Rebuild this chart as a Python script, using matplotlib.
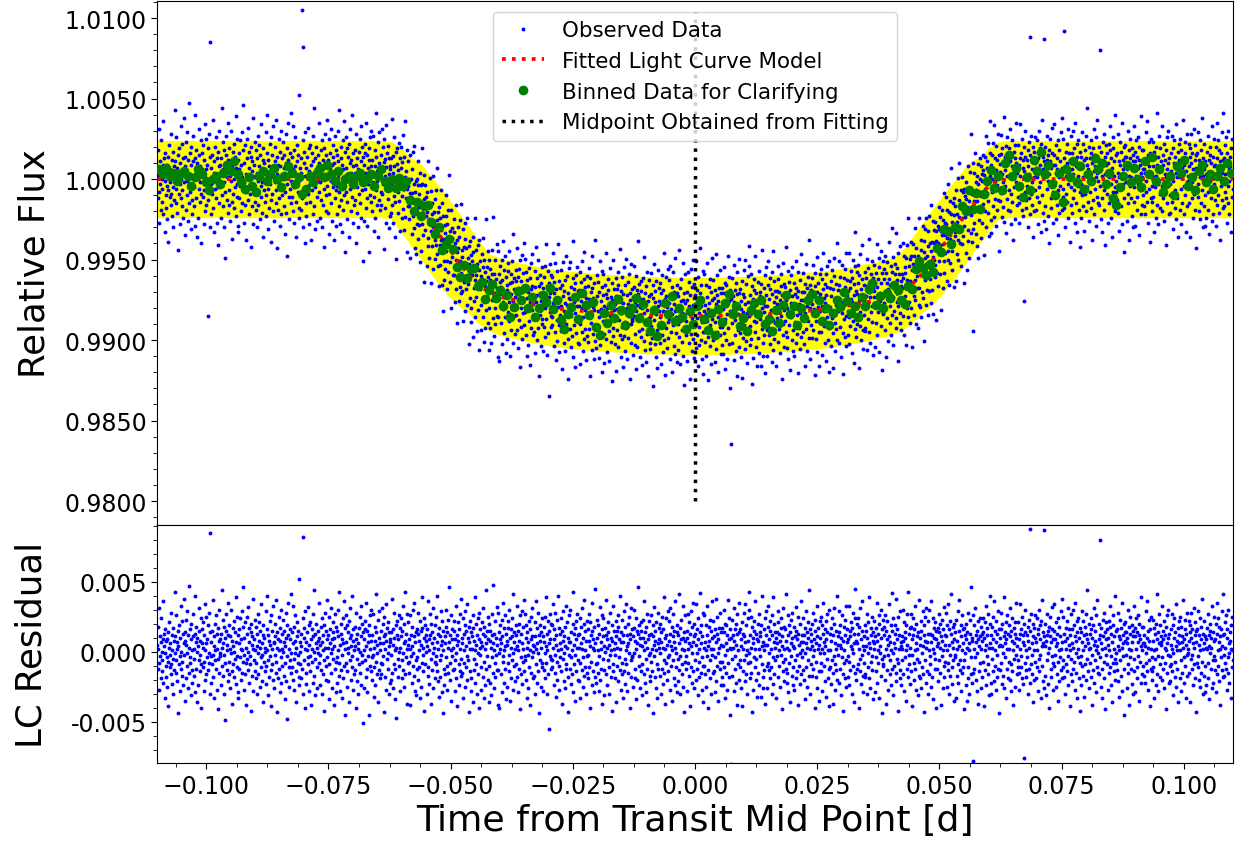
import numpy as np
import matplotlib
matplotlib.use("Agg")
import matplotlib.pyplot as plt
from matplotlib.ticker import MultipleLocator, FormatStrFormatter

# Fitted light curve model: time [d] and relative flux
MODEL_T = [-0.110, -0.064, -0.062, -0.060, -0.058, -0.056, -0.054, -0.052, -0.050, -0.048,
           -0.046, -0.044, -0.042, -0.040, -0.037, -0.033, -0.028, -0.020, -0.010,
           0.000, 0.010, 0.020, 0.028, 0.033, 0.037, 0.040, 0.042, 0.044, 0.046,
           0.048, 0.050, 0.052, 0.054, 0.056, 0.058, 0.060, 0.062, 0.064, 0.110]
MODEL_F = [1.00000, 1.00000, 0.99990, 0.99955, 0.99880, 0.99805, 0.99725, 0.99640, 0.99555, 0.99470,
           0.99395, 0.99335, 0.99295, 0.99270, 0.99248, 0.99222, 0.99195, 0.99172, 0.99155,
           0.99149, 0.99155, 0.99172, 0.99195, 0.99222, 0.99248, 0.99270, 0.99295, 0.99335, 0.99395,
           0.99470, 0.99555, 0.99640, 0.99725, 0.99805, 0.99880, 0.99955, 0.99990, 1.00000, 1.00000]

MIDPOINT = 0.0          # fitted mid transit time [d]
T_START, T_END = -0.110, 0.110
BIN_SIZE = 10
BAND_HALF = 0.0024      # half width of the yellow band around the model

# residuals of the observed points (units of 1e-4), in time order
RESID = [
    5, -12, 18, 2, -27, -8, 31, 11, -3, 7, -19, 24, 0, -6, -14, 9, 36, -22, 4, 13, -1, -33, 16, 8, -10,
    -18, -4, 9, -25, 14, -7, -39, 3, 21, -11, 6, -2, -16, 28, -9, 1, -23, 12, 17, -5, -30, 8, -13, 43, -1,
    11, 26, -6, -15, 2, -21, 7, -44, 15, 4, -9, 19, -28, -3, 10, 33, -12, 0, 22, -17, -7, 13, -24, 6, 38,
    -2, 8, -35, 14, -19, 23, 5, -10, -1, 29, -26, 12, 3, -15, 47, -8, -4, 16, -31, 9, 20, -13, 1, -22, 11,
    27, -5, 2, -17, 13, 40, -29, 7, -12, 18, 0, -36, 10, 4, -24, 15, -6, 31, -2, -14, 8, 24, -40, -9, 6,
    16, -11, 3, 21, -7, -28, 12, 1, -20, 34, 6, -16, 25, -4, 9, -85, -13, 19, -1, 28, -8, 85, -30, 14, -3,
    -22, 7, 15, -9, -2, 37, -18, 11, 4, -33, 20, -6, 1, -12, 26, 13, -27, 2, -41, 17, -5, 8, 30, -15, -1,
    9, -3, -24, 13, 44, -10, 3, -17, 23, 6, -30, 18, -2, 10, -8, -49, 15, 27, -13, 1, 5, -21, 12, 35, -16,
    -7, 19, 2, -26, 11, -1, 30, -14, 8, -37, 17, 4, -9, 22, -18, 0, 14, -5, 39, -23, 7, -11, 25, -3, -29,
    12, -33, 6, 16, -12, 24, -4, 2, -20, 9, 29, -15, 1, -7, 18, 46, -27, 10, -2, -16, 21, -8, 3, -38, 13,
    -5, 25, -13, 0, 32, -22, 7, 17, -9, -3, 14, -42, 20, 5, -17, 11, 2, -28, 38, -6, 9, -14, 23, 1, -19,
    18, -8, 4, -30, 13, 27, -1, -16, 8, 21, -25, 3, 15, -11, -4, 34, -21, 6, -2, 12, -36, 19, 10, -7, 0,
    -14, 3, 29, -10, -23, 16, 1, 40, -6, 12, -31, 8, -18, 22, -3, 5, -13, 26, -39, 2, 15, -9, 33, -20, 7,
    6, -26, 11, 20, -2, -15, 37, -7, 14, -43, 3, 9, -19, 25, 1, -12, 17, -29, 8, 30, -4, -22, 13, 2, -10,
    23, 0, -17, 7, 15, -34, 4, -8, 28, 10, -21, 19, -3, -48, 12, 35, -11, 2, -25, 16, -6, 9, -15, 41, -1,
    -11, 14, 6, -20, 33, -5, -27, 18, -1, 8, 26, -14, 3, -36, 21, 11, -8, 15, -2, -18, 52, -24, 7, 0, -9,
    13, -19, 4, 105, -12, 24, 82, -30, 10, -6, 17, -40, 2, 29, -15, 7, -23, 14, 1, -9, 32, -4, 19, -28, 5,
    -3, 21, -14, 9, -38, 16, 2, -7, 27, -22, 11, 0, -17, 44, -5, 13, -31, 6, 20, -11, 3, -26, 15, 8, -1,
    10, -8, 35, -24, 5, -2, 18, -13, -30, 24, 7, -16, 12, 1, -42, 19, -6, 28, 3, -10, 15, -20, 37, -4, 9,
    -21, 3, 12, -9, 25, -34, 16, 6, -1, -15, 31, 9, -26, 2, 14, -5, 21, -38, 10, 4, -12, 27, -7, 18, -29,
    15, -4, -22, 30, 1, 11, -17, 43, -8, 5, -28, 13, 20, -13, -2, 9, -33, 24, 6, -19, 36, -10, 2, -45, 17,
    -8, 26, 7, -14, 19, -25, 3, -1, 14, -36, 22, 10, -6, 31, -20, 4, 12, -11, -3, 40, -27, 16, 8, -16, 1,
    4, -13, 18, -40, 9, 28, -5, 13, -21, 2, 6, -30, 17, -9, 25, 0, -15, 33, -24, 11, -2, 20, -7, -51, 14,
    -26, 9, 1, 16, -6, 22, -18, 35, 4, -12, -29, 15, 7, -3, 19, -45, 12, -10, 26, 2, -14, 8, 30, -20, -4,
    12, -2, 27, -11, 3, -32, 18, 8, -24, 14, -7, 41, -16, 5, -1, 23, -36, 10, -13, 29, 1, -19, 6, 15, -8,
    -16, 31, -9, 6, 20, -3, -43, 11, 25, -18, 2, 13, -27, 8, 34, -5, 17, -12, -1, 21, -30, 4, 14, -22, 9,
    7, -20, 14, -2, 38, -15, 5, -26, 16, 10, -9, 28, -34, 1, -12, 19, 3, -47, 22, 12, -5, 9, -18, 26, 0,
    -10, 17, 3, -28, 11, 24, -6, 15, -19, -1, 33, -13, 6, 20, -25, 8, 43, -16, -4, 13, -37, 2, 27, -8, 5,
    21, -7, -15, 9, 2, -38, 26, -3, 12, 18, -22, 4, -10, 30, -1, -17, 11, 35, -28, 7, 14, -6, -31, 16, -12,
    -4, 13, 28, -20, 8, -11, 1, 22, -33, 15, 5, -25, 39, -8, 17, -14, 3, -2, 24, -42, 10, 19, -9, 0, 12,
    8, -30, 16, 4, -17, 36, -11, 9, 1, -23, 27, 12, -5, -37, 20, 6, -13, 14, -1, 31, -26, 3, 10, -19, -7,
    19, -3, -9, 25, -14, 7, 40, -21, 13, 2, -32, 17, -6, 11, -18, 29, -2, 5, -29, 22, 8, -44, 15, 1, -12,
    -24, 11, 6, -16, 30, -4, 18, -10, -27, 14, 3, 23, -15, 7, 46, -8, -20, 12, 1, -35, 26, -3, 9, 16, -13,
    3, 22, -12, 15, -6, -28, 9, 33, -1, -19, 12, 5, -39, 21, 8, -9, 16, -24, 27, 2, -14, 38, -5, -17, 10,
    -15, 6, 24, -33, 13, 1, -8, 19, 29, -25, 4, -11, 15, -3, -20, 34, 10, -6, -43, 18, 7, -14, 22, 2, -28,
    14, -19, 2, 11, 26, -36, 17, -5, 8, -13, 39, -22, 1, 20, -9, 5, -30, 12, 24, -1, -16, 9, -40, 28, 3,
    -2, 16, -27, 7, -11, 21, 4, -18, 31, 13, -7, -33, 18, 2, 11, -24, 44, -12, 6, -3, 15, -20, 9, 25, -36,
    20, -10, 8, -22, 15, 3, -31, 12, -4, 27, -15, 6, 48, -26, 1, 13, -8, -18, 22, 10, -2, 32, -13, 5, -38,
    -13, 28, -1, 14, -40, 9, 19, 2, -16, 6, 23, -29, 11, -7, 35, -3, 17, -22, 1, -12, 26, 4, -34, 13, 8,
    5, -25, 17, -8, 22, -2, -14, 30, 10, -35, 3, 16, -19, 24, -6, 11, -1, 41, -27, 7, -10, 14, 2, -21, 19,
    -9, 12, 33, -18, 4, -29, 15, 1, -12, 20, 8, -41, 26, -4, 13, -16, 29, 6, -23, 2, 18, -7, 37, -14, -3,
    27, -6, -20, 10, 19, 3, -33, 14, 7, -2, -26, 22, -11, 16, 1, -38, 9, 25, -15, 31, -4, 11, -19, 5, 0,
    -17, 4, 21, -30, 11, 36, -9, 2, -22, 17, 6, -14, 28, -1, -44, 12, 19, -6, 8, -25, 14, 3, 24, -11, -8,
    11, -28, 7, 18, -13, -1, 25, -19, 4, 39, -8, 13, -30, 1, 22, -16, 6, 15, -55, 27, -3, 9, -12, 20, -5,
    -6, 19, -11, 3, 34, -24, 9, 16, -2, -15, 28, -32, 5, 12, -7, 23, -20, 1, 40, -10, 17, -27, 6, -4, 13,
    24, -14, 2, -37, 15, 8, -5, 29, -21, 11, -1, 18, -26, 4, 33, -12, -9, 21, 3, -18, 10, -43, 26, 7, -2,
    -12, 7, 30, -4, -23, 14, 1, -16, 20, 43, -29, 5, 13, -9, -2, 17, -35, 22, 9, -14, 3, 27, -20, 12, -6,
    3, -21, 13, 24, -8, -33, 18, 6, -13, 2, 31, -25, 10, -4, 20, 37, -17, 1, -11, 15, -30, 8, -3, 22, -15,
    16, -2, -19, 8, 27, -11, 4, -40, 21, 12, -7, 15, -24, 35, 3, -14, 9, -29, 18, 1, 45, -18, 6, -9, -22,
    -8, 23, 10, -15, 1, 19, -28, 13, -3, 32, -20, 7, 2, -12, 26, -37, 16, -5, 11, 24, -13, 4, -31, 17, 0,
    12, -16, 37, 3, -24, 9, -6, 21, 14, -30, 5, -11, 28, -2, -18, 10, 1, -42, 19, 8, -9, 33, -14, 2, 15,
    -19, 6, -2, 22, 11, -36, 15, 3, -10, 26, -21, 18, -4, 9, 40, -13, 2, -27, 14, 7, -16, 23, -8, -33, 12,
    7, 29, -14, -5, 18, -23, 1, 34, -9, 12, -28, 4, 20, -15, 6, -1, 25, -40, 13, 9, -6, -18, 31, -3, 16,
    -4, -25, 11, 17, -1, 30, -19, 8, -12, 2, 24, -34, 15, 6, -20, 13, 46, -10, -3, 19, -26, 5, 10, -14, 21,
    15, -9, 4, -31, 23, 10, -16, 1, 36, -22, 7, 14, -5, -29, 18, 3, -12, 27, -38, 9, 12, -2, 22, -17, -1,
    -21, 13, 26, -7, 2, -14, 19, -44, 11, 5, -3, 32, -18, 8, 15, -26, 1, 21, -9, -33, 28, 6, -12, 17, 3,
    9, -1, -17, 20, -30, 7, 14, 25, -12, 3, -23, 16, 39, -6, -15, 10, -37, 2, 24, 12, -8, -20, 5, 29, -4,
    -14, 22, 8, -2, 13, -27, 31, -10, 4, 18, -35, 1, -6, 27, 11, -19, 7, 15, -24, 3, 36, -11, -1, 14, -29,
    19, -5, 12, -21, 6, 41, -13, -3, 17, -30, 9, 23, -16, 2, -9, 33, -25, 10, 1, -43, 14, 26, -7, 8, -12,
    -3, 15, -28, 10, 27, -8, 2, -17, 21, 6, -39, 13, 29, -11, 4, -22, 18, -1, -14, 35, 7, -26, 11, 20, -6,
    13, -20, 5, 34, -12, -1, 16, 9, -31, 24, -7, 2, -18, 14, 42, -15, 6, 19, -27, -4, 11, -10, 28, -36, 3,
    -10, 26, -16, 7, 1, -25, 19, 12, -3, 33, -13, 4, -40, 18, 8, -6, 23, -19, 2, 15, -30, 36, 10, -2, -15,
    22, 2, 11, -14, -29, 16, -4, 38, -21, 7, 13, -10, 25, -1, -35, 9, 3, 17, -12, 28, -7, -24, 14, 5, -18,
    -7, 17, -24, 4, 14, 30, -11, -2, 20, -33, 6, 19, -15, 1, 12, -27, 37, -8, 9, -18, 24, 3, -45, 16, 2,
    -80, 10, 23, -5, -17, 12, 3, -28, 31, 8, -12, 16, -3, 20, -22, 5, 13, -38, 27, 1, -9, 14, -20, 35, -6,
    16, -11, 4, -26, 9, 21, -39, 13, 2, -14, 28, -6, 11, -21, 34, 7, -2, 19, -16, 1, -30, 24, 8, -8, 43,
    -1, 30, -19, 12, -7, 3, 25, -15, 18, -43, 10, 6, -27, 22, -4, 15, -11, 2, 36, -20, 13, -5, 9, -32, 20,
    8, -15, 2, 27, -24, 14, -3, 11, -32, 19, 4, -9, 40, -18, 7, -26, 16, 1, -13, 24, 5, -37, 12, 29, -10,
    -26, 5, 18, -8, 33, -13, 9, -1, 22, -19, 15, 2, -11, -30, 26, 12, -4, 39, -23, 7, -16, 20, 3, -6, 14,
    10, -33, 14, 6, -3, 21, -18, 29, 1, -10, 13, -25, 8, 17, -2, 24, -41, 11, 4, -14, 31, -7, -21, 18, 2,
    -5, 16, -12, 41, 8, -22, 3, -15, 26, 12, -29, 1, 19, -8, -36, 14, 6, -3, 23, -17, 10, 28, -11, 4, -24,
    18, 3, -27, 11, -6, 15, 32, -19, -2, 9, -14, 25, -38, 13, 5, -10, 20, -1, -23, 36, 7, -16, 12, -4, 1,
    -13, 24, 7, -20, 12, -1, -34, 17, 6, 29, -11, 3, 14, -25, 21, -6, 10, 44, -17, 2, -30, 16, 8, -9, 13,
    4, -17, 20, -3, 28, -12, 9, 1, -40, 15, 23, -7, 6, -18, 11, 33, -26, 2, 17, -14, 5, -35, 22, -1, 10,
    25, -8, -14, 19, 2, -28, 13, 35, -10, 7, -1, -21, 16, 4, -32, 22, 9, -5, 14, 27, -19, 1, -12, 30, -39,
    -11, 13, 1, -23, 17, 8, -6, 24, -15, -37, 12, 20, -3, 31, -9, 6, -27, 15, 2, -13, 40, -20, 11, 5, -2,
    14, -22, 29, 5, -12, 19, -31, 3, 10, -4, 26, -16, 8, -42, 18, 1, -8, 23, -19, 12, 33, -6, -25, 7, 16,
    -3, 9, -18, 33, -7, -24, 15, 11, -13, 21, 4, -30, 17, 2, -10, 28, -1, -36, 13, 6, -15, 24, 45, -20, 8,
    20, -12, 6, -9, 24, 13, -40, 2, 18, -5, 31, -14, -23, 9, 15, -2, 36, -17, 4, -29, 11, 1, -8, 19, -16,
    -18, 4, 15, 27, -30, 10, -1, 21, -11, 6, -19, 39, 3, -26, 12, 17, -7, -13, 25, -3, 8, -34, 14, 2, 22,
    6, -29, 11, -4, 17, -14, 35, 8, -22, 1, 13, -8, 26, -33, 20, -1, 4, -17, 30, 10, -44, 16, -5, 23, -10,
    -9, 18, -3, 12, -20, 26, 2, -37, 15, 9, -13, 22, 5, -2, -27, 34, 11, -16, 7, -6, 19, -24, 1, 42, -12,
    15, -1, 24, -31, 6, -10, 19, 13, 3, -21, 38, -15, 9, -5, 16, -42, 25, -8, 2, 12, -19, 29, -13, 4, 7,
    -24, 11, -6, 2, 30, -16, 8, -28, 21, 14, -4, 10, -35, 19, 1, -12, 27, 5, -18, 43, -9, 13, -2, -23, 17,
    3, 27, -14, 18, -2, 9, -39, 12, 24, -8, -20, 16, 1, 33, -12, 6, -27, 20, -5, 11, 2, -31, 14, 37, -17,
    -7, -19, 10, 5, -26, 22, 15, -11, -1, 29, -16, 4, 19, -43, 12, 8, -6, 25, -22, 3, 31, -14, 7, -30, 13,
    22, 1, -16, 30, -9, 13, -3, 36, -25, 7, 12, -18, 2, 24, -34, 10, -1, 17, -12, -5, 21, 9, -40, 15, 4,
    -12, 17, 6, -21, 14, -6, 27, 3, -15, 20, -38, 11, 8, -3, 23, -26, 16, 1, -10, 32, -18, 5, 12, -7, 28,
    11, -25, 19, 1, -13, 34, -8, 16, -30, 5, 22, -2, -17, 13, 41, -11, 7, -23, 3, 18, -6, -35, 20, 9, -4,
    -2, 14, -33, 23, 8, -17, 2, -9, 29, -22, 15, 4, 37, -13, -6, 11, -28, 19, 1, -15, 26, 6, -11, 16, -41,
    17, -6, 12, -1, -24, 20, 9, -35, 14, 3, -11, 28, -19, 6, 1, -30, 23, 13, -4, 46, -16, 8, -22, 10, -78,
    -15, 26, 2, -12, 19, -4, 31, -20, 7, 12, -28, 15, -1, 22, -37, 9, 4, -14, 24, 11, -8, -26, 18, 2, 13,
    8, -18, 24, 14, -7, -39, 10, 1, 21, -13, 5, 33, -24, 17, -3, 12, -16, 27, -9, 3, -31, 20, 6, 40, -22,
    -30, 12, -5, 18, 3, 25, -14, 9, -21, 36, 1, -10, 15, -27, 22, 7, -2, -18, 13, 29, -12, 4, -44, 16, 10,
    5, -13, 28, -8, 16, -23, 4, 20, -1, -17, 11, 39, -26, 6, 14, -4, -33, 21, 9, -12, 2, 26, -19, 13, -7,
    19, 2, -20, 11, 31, -9, 15, -28, 8, 24, -14, 1, -38, 17, 6, -5, 13, 21, -25, 10, -2, 35, -16, 4, -11,
    -6, 21, 9, -15, -27, 13, 2, 34, -11, 16, -3, 25, -19, 7, 12, -23, 5, -76, 20, -8, 14, 30, -13, 1, -18,
    12, -4, 18, -30, 8, 23, -12, 3, -22, 15, 88, -9, 27, -16, 6, -2, 20, -36, 11, 1, 17, -20, 10, -7, 26,
    -19, 7, -11, 24, 1, -28, 16, 13, -5, 30, -14, 9, -2, 19, -33, 22, 4, -10, 37, -21, 6, 14, -26, 11, 87,
    4, 20, -17, 8, -31, 12, 27, -6, 15, -1, -23, 18, 3, -40, 11, 25, -12, 7, -18, 32, -3, 16, 9, -27, -8,
    15, -10, 34, -2, 9, -25, 21, 4, -16, 13, 6, -35, 24, -7, 1, 18, -21, 11, -4, 29, -13, 2, 38, -19, 7,
    -11, 25, -6, 13, 92, -18, 8, -30, 17, 2, -9, 22, 10, -14, -3, 31, -24, 5, 16, -39, 12, 1, -16, 27, -5,
    6, -21, 16, 3, -12, 30, -7, 19, -27, 11, 35, -1, -15, 8, 22, -33, 14, -4, 2, 24, -19, 10, -8, 17, -42,
    -3, 14, -24, 29, 7, -10, 1, 22, -17, 12, -32, 18, 4, -9, 27, 13, -20, 44, -5, 9, -14, 6, -26, 20, 2,
    13, -8, 3, -18, 24, 16, -38, 10, -2, 19, -13, 5, 31, -22, 8, -6, 15, 1, -29, 26, -11, 37, 4, -15, -1,
    -16, 20, 9, -4, 12, 80, -25, 6, 17, -12, 2, -33, 23, 11, -7, 28, -19, 3, 14, -41, 9, -2, 21, -9, 16,
    10, -27, 5, 22, -15, 1, 33, -11, 18, -3, -24, 13, 7, -36, 19, -8, 26, 2, -14, 11, 40, -20, -5, 15, -1,
    -8, 16, -13, 4, 28, -21, 11, 1, -32, 23, 9, -6, 17, -17, 3, 35, -28, 12, 6, -3, -12, 20, -45, 14, 8,
    21, -2, 14, -26, 10, 6, -15, 30, -9, 2, 18, -38, 13, -4, 25, -12, 1, 19, -23, 7, 15, -30, 11, 33, -14,
    -5, 11, -29, 17, 2, 24, -11, -19, 14, 7, -3, 26, -35, 12, 20, -7, 9, -22, 39, 4, -16, 1, 18, -10, 6,
    18, -17, 6, 12, -22, 4, 29, -8, -1, 36, -14, 10, 3, -27, 15, 23, -6, 8, -39, 16, 2, -12, 25, -4, -20,
    -14, 8, 23, -11, 1, -33, 17, 13, -5, 20, -24, 2, 41, -16, 9, -3, 14, -28, 6, 27, -9, 19, -18, 5, 11,
    7, 33, -4, -20, 15, 9, -12, 22, -26, 3, 12, -8, 18, 1, -41, 26, -15, 6, 10, -2, 30, -22, 13, -10, -3,
    -21, 5, 16, -9, 27, -14, 2, -1, 19, -31, 10, 24, -7, 14, -18, 4, 34, -25, 8, 1, -12, 17, -36, 22, 6,
    12, -19, 1, 25, -6, 18, -28, 11, 7, -15, 3, 37, -22, 9, -4, 16, -10, 23, -33, 13, 5, -2, 28, -17, 2,
    -1, 22, -15, 8, 14, -36, 19, -5, 10, 28, -12, -2, 16, -24, 6, 31, -9, 3, 21, -19, 12, -43, 7, 15, -8,
    16, -11, 29, -3, -20, 12, 5, -25, 24, 1, -15, 18, 9, -7, 38, -30, 13, 2, -17, 6, 22, -10, -29, 11, 3,
    -24, 9, 2, 17, -8, 27, -19, 12, 4, -34, 20, -1, 15, -12, 10, 3, -26, 33, -6, 14, -22, 8, 25, -3, -13,
    9, -6, 20, -29, 13, 35, -16, 1, -10, 24, 7, -21, 18, 2, -38, 11, -4, 16, 29, -13, 4, -18, 12, 41, -2,
    -17, 13, -8, 21, 3, -12, 26, -27, 10, 16, -4, 30, -15, 6, -1, -22, 14, 8, -33, 19, 2, 25, -11, 1, -6,
]

# binned data: offset from the model (units of 1e-4)
BIN_OFF = [
    6, 3, 7, 2, 4, -1, 3, 5, 2, -4, 1, 6, 3, -2, -7, 0, 2, -3, 4, 9, 5, 11, 3, -2, -6, 1, -4, -8, 2, 5,
    -1, 3, 7, 0, -5, 2, 8, 4, -3, 1, -9, -6, 2, -2, 4, 7, 1, 9, 3, -1, 5, -4, 0, 2, -3, 1, 4, -2, 0, 3,
    -4, 2, 6, -1, -5, 1,
    -3, 4, 1, 7, -2, -6, 2, -4, 5, 9, 1, -3, 4, -7, 0, 6, 3, -5, -8, 2, -3, 5, 8, -1, 3, -6, 1, 6, -2, 4,
    -5, 2, -11, -4, 6, 1, 9, -3, 4, -8, -2, 7, 3, 12, -1, 5, -7, -12, -3, 2, 8, -5, 11, 4, -2, 6, -9, -14, 0, -6,
    5, -3, 9, 2, -7, 1, 4, 10, -2, 7, -4, -10, 3, -13, -6, 8, 1, 12, -3, 5, -1, -8, 3, -5, 6, 10, -2, -9, 2, -12,
    4, -4, 8, 13, 1, 6, -7, -2, -10, 3, 7, 0, 9, -6, -3, -11, 2, -6, 5, 11, -1, 4, -8, 2, -4, 7, 10, -2, 6, -7,
    1, -10, -3, 5, 0, 9, 3, -5, -1, -8, 4, -2, 8, 11, -3, 2, -6, 3,
    -1, 6, 2, -5, -9, 1, -3, 7, 10, 3, -4, 0, -8, 4, -2, 9, 5, -6, 1, -3, 8, 2, 12, -2, 5, -8, -1, 4, 9, -3,
    3, -6, 10, 15, 2, 7, -4, -11, 1, -7, 12, 5, 17, 3, 9, -3, -10, 4, -14, 6, 1, 11, -2, 8, -6, 3, -1, 13, 6, 10,
    -3, 4, -12, -16, -5, 2, 9, -2, 7, 0, -5, 11, 3, 14, -1, 6, -8, -3, 2, -10, 8, 4, 12, -4, 1, -7, 5, 9, -2, 3,
    -6, 2, 7, -1, 10, 4,
]

# sample times on a regular cadence across the window
times = np.linspace(T_START, T_END, len(RESID))
resid = np.array(RESID) * 1e-4
model_f = np.array(MODEL_F)
flux = np.interp(times, MODEL_T, MODEL_F) + resid

# bin centres: mean time of each group of consecutive points
n_bins = min(len(times) // BIN_SIZE, len(BIN_OFF))
bin_t = times[:n_bins * BIN_SIZE].reshape(-1, BIN_SIZE).mean(axis=1)
bin_f = np.interp(bin_t, MODEL_T, MODEL_F) + np.array(BIN_OFF[:n_bins]) * 1e-4

fig = plt.figure(figsize=(12.35, 8.45), dpi=100)
ax1 = fig.add_axes([0.1274, 0.3775, 0.8707, 0.6201])
ax2 = fig.add_axes([0.1274, 0.0955, 0.8707, 0.2820], sharex=ax1)

# top panel: light curve with a yellow band around the model
ax1.fill_between(MODEL_T, model_f - BAND_HALF, model_f + BAND_HALF, color="yellow", lw=0, zorder=1)
ax1.plot(MODEL_T, MODEL_F, color="yellow", lw=42, solid_joinstyle="round", zorder=1)
ax1.plot(times, flux, "o", color="blue", ms=2.8, mew=0, label="Observed Data", zorder=2)
ax1.plot(MODEL_T, MODEL_F, ":", color="red", lw=2.7, label="Fitted Light Curve Model", zorder=3)
ax1.plot(bin_t, bin_f, "o", color="green", ms=7, mew=0, label="Binned Data for Clarifying", zorder=4)
ax1.vlines(MIDPOINT, 0.980, 1.0104, colors="black", linestyles=":", lw=2.5,
           label="Midpoint Obtained from Fitting", zorder=5)

ax1.set_xlim(T_START, T_END)
ax1.set_ylim(0.97851, 1.01106)
ax1.yaxis.set_major_locator(MultipleLocator(0.005))
ax1.yaxis.set_minor_locator(MultipleLocator(0.001))
ax1.yaxis.set_major_formatter(FormatStrFormatter("%.4f"))
ax1.tick_params(axis="x", which="both", bottom=False, labelbottom=False)
ax1.tick_params(axis="y", which="major", labelsize=17, length=4)
ax1.tick_params(axis="y", which="minor", length=3)
ax1.set_ylabel("Relative Flux", fontsize=25.6)
ax1.yaxis.set_label_coords(-0.098, 0.5)
ax1.legend(loc="upper center", fontsize=15.4)

# bottom panel: residuals
ax2.plot(times, resid, "o", color="blue", ms=2.8, mew=0)
ax2.set_ylim(-0.00797, 0.00905)
ax2.yaxis.set_major_locator(MultipleLocator(0.005))
ax2.yaxis.set_minor_locator(MultipleLocator(0.001))
ax2.yaxis.set_major_formatter(FormatStrFormatter("%.3f"))
ax2.xaxis.set_major_locator(MultipleLocator(0.025))
ax2.xaxis.set_minor_locator(MultipleLocator(0.00625))
ax2.tick_params(which="major", labelsize=17, length=4)
ax2.tick_params(which="minor", length=3)
ax2.set_ylabel("LC Residual", fontsize=25.6)
ax2.yaxis.set_label_coords(-0.1016, 0.5)
ax2.set_xlabel("Time from Transit Mid Point [d]", fontsize=26.2)

fig.savefig("out.png", dpi=100)
